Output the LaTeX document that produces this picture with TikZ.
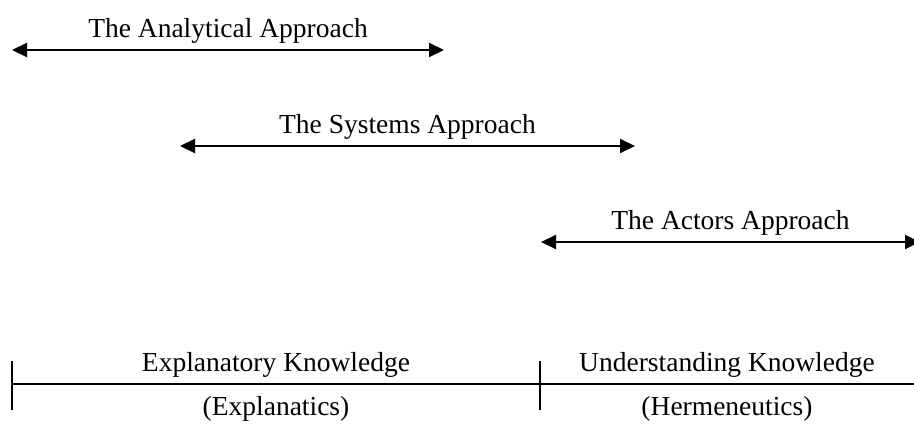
\documentclass[tikz,border=0pt]{standalone}
\usepackage{fontspec}
\setmainfont{Liberation Serif}
\usetikzlibrary{arrows.meta,positioning}

\begin{document}
\begin{tikzpicture}[x=1pt,y=-1pt,
    approach/.style={{Triangle[length=15pt,width=14pt]}-{Triangle[length=15pt,width=14pt]},line width=1.9pt},
    caption/.style={font=\fontsize{27.5}{32}\selectfont,inner sep=0pt,anchor=base},
    over/.style={caption,yshift=12.5pt},
    under/.style={caption,yshift=-31pt}]
    \useasboundingbox (0,0) rectangle (914,428);

    % the three approaches
    \coordinate (ana l) at (12,50);
    \coordinate (ana r) at (444,50);
    \coordinate (sys l) at (180,146);
    \coordinate (sys r) at (635,146);
    \coordinate (act l) at (541,242);
    \coordinate (act r) at (920,242);

    \draw[approach] (ana l) -- node[over] (ana) {The Analytical Approach} (ana r);
    \draw[approach] (sys l) -- node[over] (sys) {The Systems Approach} (sys r);
    \draw[approach] (act l) -- node[over] (act) {The Actors Approach} (act r);

    % knowledge axis
    \coordinate (axis l) at (12,384);
    \coordinate (axis m) at (540,384);
    \coordinate (axis r) at (914,384);

    \draw[line width=1.3pt] (axis l) -- node[over] (expl) {Explanatory Knowledge}
        node[under] (explx) {(Explanatics)} (axis m)
        -- node[over] (und) {Understanding Knowledge}
        node[under] (herm) {(Hermeneutics)} (axis r);
    \draw[line width=1.3pt] ([yshift=23pt]axis l) -- ([yshift=-26pt]axis l);
    \draw[line width=1.3pt] ([yshift=23pt]axis m) -- ([yshift=-26pt]axis m);
\end{tikzpicture}
\end{document}
